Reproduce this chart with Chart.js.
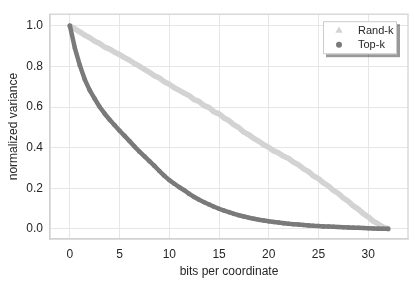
<!DOCTYPE html>
<html><head><meta charset="utf-8">
<script src="https://cdn.jsdelivr.net/npm/chart.js@4/dist/chart.umd.min.js"></script>
<style>html,body{margin:0;padding:0;background:#fff;}canvas{display:block}</style>
</head><body>
<canvas id="c" width="415" height="285"></canvas>
<script>
// ---- data ----
const bits = [0,0.5,1,1.5,2,2.5,3,3.5,4,4.5,5,5.5,6,6.5,7,7.5,8,8.5,9,9.5,10,10.5,11,11.5,12,12.5,13,13.5,14,14.5,15,15.5,16,16.5,17,17.5,18,18.5,19,19.5,20,20.5,21,21.5,22,22.5,23,23.5,24,24.5,25,25.5,26,26.5,27,27.5,28,28.5,29,29.5,30,30.5,31,31.5,32];
const randK = [1.000,0.985,0.970,0.953,0.941,0.924,0.913,0.895,0.885,0.870,0.858,0.843,0.830,0.814,0.801,0.785,0.771,0.754,0.743,0.724,0.712,0.695,0.682,0.668,0.656,0.636,0.627,0.607,0.597,0.576,0.566,0.546,0.533,0.512,0.498,0.476,0.463,0.445,0.431,0.414,0.401,0.384,0.373,0.357,0.346,0.328,0.315,0.295,0.282,0.260,0.247,0.226,0.211,0.189,0.174,0.152,0.136,0.113,0.097,0.075,0.059,0.038,0.024,0.009,0.000];
const topK = [1.000,0.890,0.805,0.735,0.682,0.640,0.600,0.567,0.537,0.510,0.483,0.458,0.432,0.405,0.380,0.357,0.333,0.310,0.285,0.261,0.240,0.222,0.205,0.190,0.172,0.157,0.143,0.131,0.120,0.109,0.099,0.090,0.082,0.074,0.067,0.061,0.055,0.050,0.045,0.041,0.037,0.034,0.031,0.028,0.025,0.023,0.021,0.019,0.017,0.015,0.014,0.012,0.011,0.010,0.009,0.008,0.007,0.006,0.005,0.004,0.003,0.002,0.001,0.0005,0.000];
const seriesNames = ['Rand-k','Top-k'];
const xTicks = [0,5,10,15,20,25,30];
const yTicks = [0.0,0.2,0.4,0.6,0.8,1.0];
const xTitle = 'bits per coordinate';
const yTitle = 'normalized variance';

// ---- styling ----
const FONT = "'Liberation Sans', Arial, sans-serif";
const LIGHT = '#d3d3d3', DARK = '#7a7a7a', TEXT = '#262626';
const GRID = '#e6e6e6', EDGE = '#d2d2d2';
const toPts = arr => arr.map((v,i)=>({x:bits[i], y:v}));

const framePlugin = {
  id:'frame',
  afterDatasetsDraw(chart){
    const {ctx, chartArea:a} = chart;
    ctx.save();
    ctx.strokeStyle = EDGE; ctx.lineWidth = 1.25;
    ctx.strokeRect(a.left, a.top, a.right-a.left, a.bottom-a.top);
    ctx.restore();
  }
};

const legendPlugin = {
  id:'customLegend',
  afterDraw(chart){
    const {ctx, chartArea:a} = chart;
    const bw = 74, bh = 33;
    const bx = a.right - 11 - bw, by = a.top + 7;
    ctx.save();
    ctx.fillStyle = 'rgba(0,0,0,0.4)';
    ctx.fillRect(bx+3, by+3, bw, bh);
    ctx.fillStyle = '#ffffff';
    ctx.fillRect(bx, by, bw, bh);
    ctx.strokeStyle = '#cccccc'; ctx.lineWidth = 1;
    ctx.strokeRect(bx+0.5, by+0.5, bw-1, bh-1);
    const sizes = {triangle:4.2, circle:3};
    chart.data.datasets.forEach((ds,i)=>{
      const y = by + 9.5 + i*14;
      ctx.fillStyle = ds.backgroundColor;
      ctx.strokeStyle = ds.backgroundColor;
      Chart.helpers.drawPoint(ctx, {pointStyle: ds.pointStyle, radius: sizes[ds.pointStyle], rotation: 0, borderWidth: 0}, bx+16, y);
      ctx.fillStyle = TEXT;
      ctx.font = "11px " + FONT;
      ctx.textBaseline = 'middle';
      ctx.textAlign = 'left';
      ctx.fillText(ds.label, bx+35, y);
    });
    ctx.restore();
  }
};

new Chart(document.getElementById('c'), {
  type:'scatter',
  data:{
    datasets:[
      {label:seriesNames[0], data:toPts(randK), showLine:true, borderColor:LIGHT, backgroundColor:LIGHT,
       borderWidth:5.5, borderJoinStyle:'round', borderCapStyle:'round', pointStyle:'triangle', pointRadius:3.2, pointBorderWidth:0, order:1},
      {label:seriesNames[1], data:toPts(topK), showLine:true, borderColor:DARK, backgroundColor:DARK,
       borderWidth:4.5, borderJoinStyle:'round', borderCapStyle:'round', pointStyle:'circle', pointRadius:2.3, pointBorderWidth:0, order:0}
    ]
  },
  options:{
    responsive:false, animation:false, devicePixelRatio:1,
    layout:{padding:{top:8, right:7, left:0, bottom:0}},
    plugins:{legend:{display:false}, tooltip:{enabled:false}},
    scales:{
      x:{type:'linear', min:-2, max:34,
         afterBuildTicks:s=>{s.ticks = xTicks.map(v=>({value:v}));},
         afterFit:s=>{s.height = 46;},
         grid:{color:GRID, lineWidth:1, drawTicks:false},
         border:{color:EDGE, width:1.25},
         ticks:{color:TEXT, font:{family:FONT, size:12}, padding:8, maxRotation:0, callback:v=>String(v)},
         title:{display:true, text:xTitle, color:TEXT, font:{family:FONT, size:12}, padding:{top:0, bottom:6}}},
      y:{type:'linear', min:-0.05, max:1.057,
         afterBuildTicks:s=>{s.ticks = yTicks.map(v=>({value:v}));},
         afterFit:s=>{s.width = 50;},
         grid:{color:GRID, lineWidth:1, drawTicks:false},
         border:{color:EDGE, width:1.25},
         ticks:{color:TEXT, font:{family:FONT, size:12}, padding:7, callback:v=>Number(v).toFixed(1)},
         title:{display:true, text:yTitle, color:TEXT, font:{family:FONT, size:12}, padding:{top:6, bottom:0}}}
    }
  },
  plugins:[framePlugin, legendPlugin]
});
</script>
</body></html>
